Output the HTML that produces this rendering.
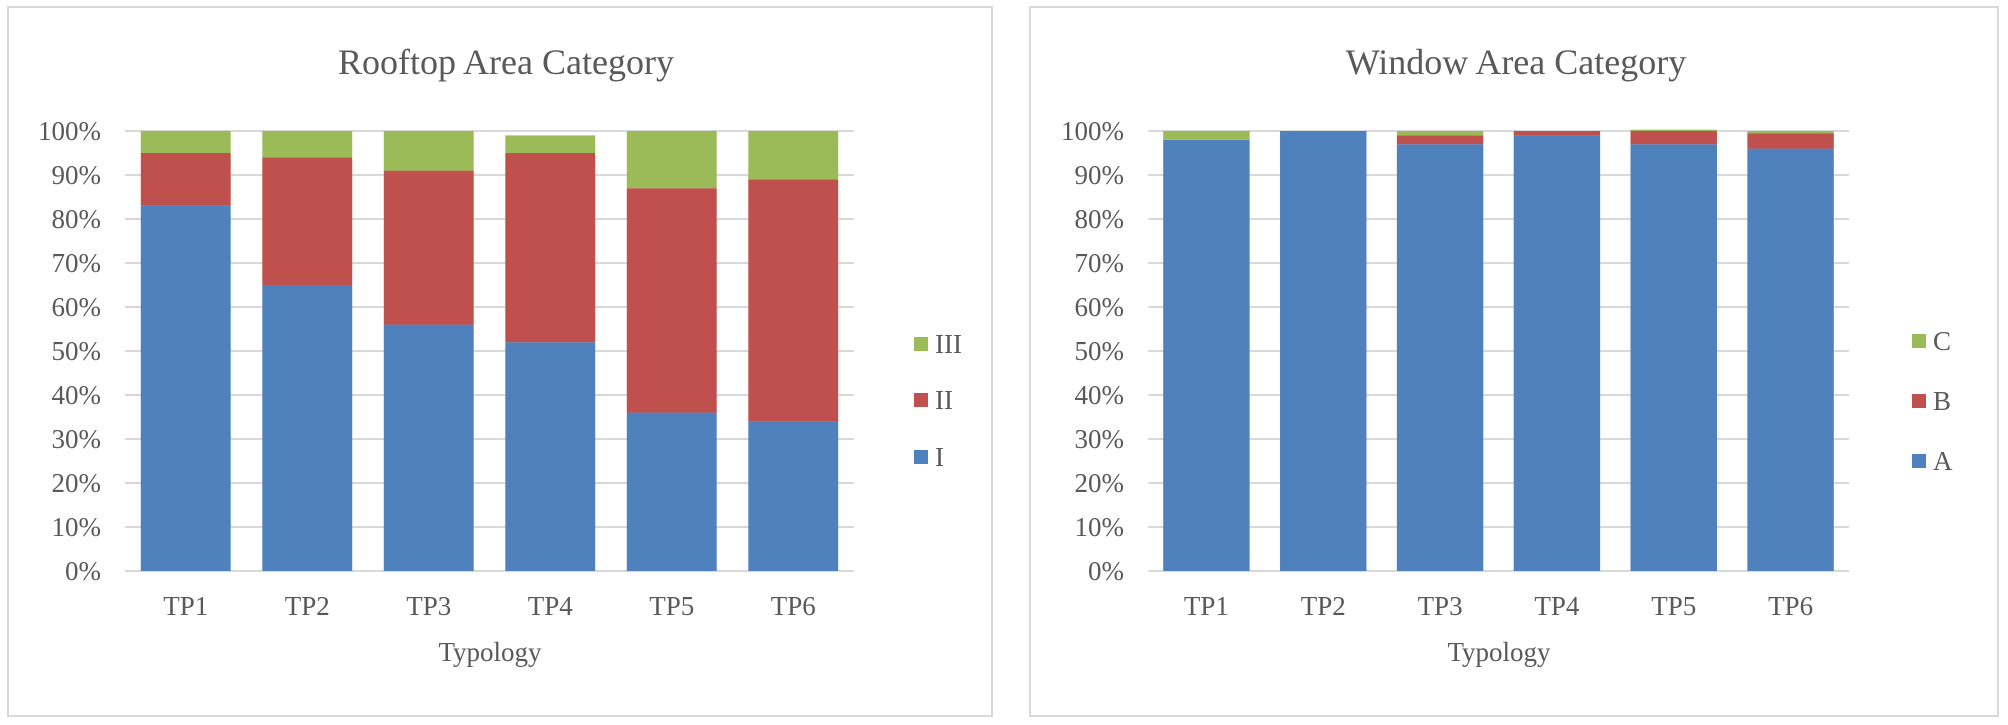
<!DOCTYPE html>
<html><head><meta charset="utf-8"><style>
html,body{margin:0;padding:0;background:#fff;}
svg{display:block;font-family:"Liberation Serif",serif;}
</style></head><body>
<svg id="svg" width="2008" height="725" viewBox="0 0 2008 725" xmlns="http://www.w3.org/2000/svg"></svg>
<script>
const categories = ["TP1","TP2","TP3","TP4","TP5","TP6"];
const yTicks = [0,10,20,30,40,50,60,70,80,90,100];
const roofI = [83,65,56,52,36,34];
const roofII = [12,29,35,43,51,55];
const roofIII = [5,6,9,4,13,11];
const winA = [98,100,97,99,97,96];
const winB = [0,0,2,1,3,3.5];
const winC = [2,0,1,0,0.3,0.5];
const COLORS = ["#4F81BD","#C0504D","#9BBB59"];
const NS = "http://www.w3.org/2000/svg";
const svg = document.getElementById("svg");
function mk(tag, attrs, parent){const e=document.createElementNS(NS,tag);for(const k in attrs)e.setAttribute(k,attrs[k]);(parent||svg).appendChild(e);return e;}

function chart(cfg){
  const g = mk("g",{});
  
  
  const frame = mk("rect",{x:cfg.fx,y:7,width:cfg.fw,height:709,fill:"#fff",stroke:"#d9d9d9","stroke-width":2},g);
  
  
  const t = mk("text",{x:cfg.tx,y:74,"text-anchor":"middle","font-size":36,fill:"#595959"},g);
  t.textContent = cfg.title;
  
  
  const y0=571, y1=131;
  const yS = v => y0 - (v/100)*(y0-y1);
  const band = (cfg.px1-cfg.px0)/categories.length;
  const xS = i => cfg.px0 + band*i + band/2;
  yTicks.forEach(v=>{
    const l = mk("line",{x1:cfg.px0,x2:cfg.px1,y1:yS(v),y2:yS(v),stroke:"#d9d9d9","stroke-width":2},g);
    
    
    const tl = mk("text",{x:cfg.px0-24,y:yS(v)+9,"text-anchor":"end","font-size":27,fill:"#595959"},g);
    tl.textContent = v+"%";
    
    
  });
  const bw = band*0.74;
  categories.forEach((c,i)=>{
    let acc=0;
    cfg.series.forEach((s,si)=>{
      const v=s[i];
      if(v>0){
        const r = mk("rect",{x:xS(i)-bw/2,y:yS(acc+v),width:bw,height:yS(acc)-yS(acc+v),fill:COLORS[si]},g);
        
        
      }
      acc+=v;
    });
    const xl = mk("text",{x:xS(i),y:615,"text-anchor":"middle","font-size":27,fill:"#595959"},g);
    xl.textContent=c;
    
    
  });
  const xt = mk("text",{x:cfg.axx,y:661,"text-anchor":"middle","font-size":27,fill:"#595959"},g);
  xt.textContent="Typology";
  
  
  cfg.labels.forEach((lab,si)=>{
    const ly = cfg.ly[si];
    const sq = mk("rect",{x:cfg.lx,y:ly-7,width:14,height:14,fill:COLORS[si]},g);
    
    
    const lt = mk("text",{x:cfg.lx+21,y:ly+9,"font-size":27,fill:"#595959"},g);
    lt.textContent=lab;
    
    
  });
}
chart({name:"rooftop-chart",title:"Rooftop Area Category",fx:8,fw:984,tx:506,px0:125,px1:854,axx:490,lx:914,
  series:[roofI,roofII,roofIII],labels:["I","II","III"],ly:[457,400,344]});
chart({name:"window-chart",title:"Window Area Category",fx:1030,fw:968,tx:1516,px0:1148,px1:1849,axx:1499,lx:1912,
  series:[winA,winB,winC],labels:["A","B","C"],ly:[461,401,341]});
</script>
</body></html>
